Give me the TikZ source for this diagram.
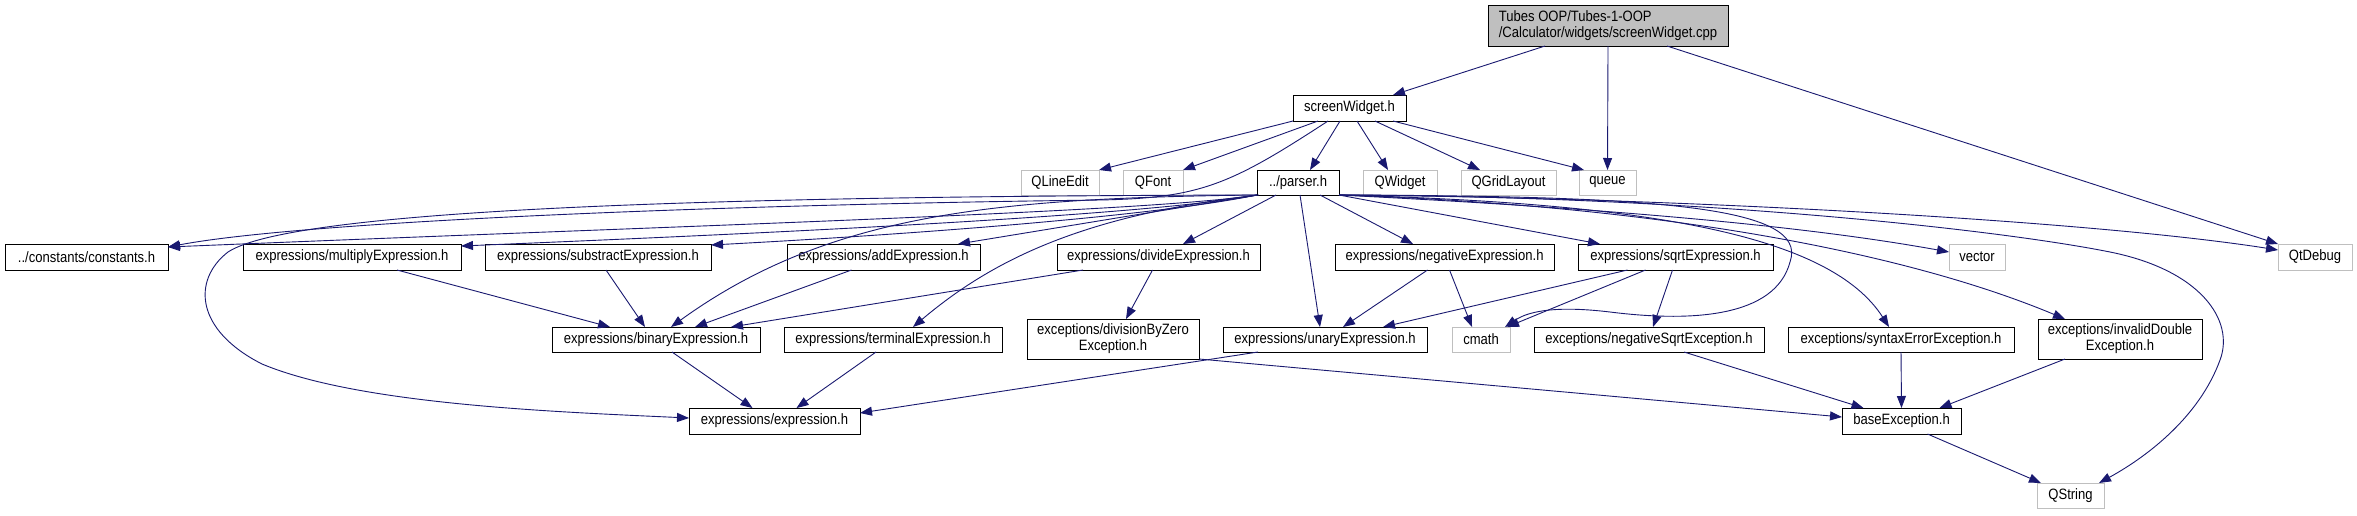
\documentclass[tikz,border=0pt]{standalone}
\usepackage{fontspec}
\setmainfont{Liberation Sans}[FakeStretch=0.87]
\usetikzlibrary{arrows.meta,shadows}
\definecolor{edgeblue}{HTML}{191970}
\definecolor{extgray}{HTML}{BFBFBF}
\definecolor{rootfill}{HTML}{BFBFBF}
\newcommand{\mynode}[7]{\node[#1, minimum width={#4-#3}, minimum height={#6-#5}] (#2) at ({(#3+#4)/2},{(#5+#6)/2}) {#7};}
\begin{document}
\begin{tikzpicture}[x=1pt,y=-1pt,
  every node/.style={font=\fontsize{15pt}{16pt}\selectfont, inner sep=0pt, outer sep=0pt},
  boxshadow/.style={drop shadow={shadow xshift=1.3pt, shadow yshift=-1.3pt, fill=black!55, opacity=1}},
  filebox/.style={draw=black, line width=0.8pt, fill=white, boxshadow},
  twoline/.style={filebox, align=center},
  extbox/.style={draw=extgray, line width=0.9pt, fill=white},
  rootbox/.style={draw=black, line width=0.8pt, fill=rootfill, align=left, boxshadow},
  dep/.style={draw=edgeblue, line width=0.9pt, -{Triangle[length=12pt,width=9pt]}}]
\fill[white] (0,0) rectangle (2357,515);
\useasboundingbox (0,0) rectangle (2357,515);
% row 0/1
\mynode{rootbox}{root}{1488}{1728}{5}{46}{Tubes OOP/Tubes-1-OOP\\/Calculator/widgets/screenWidget.cpp}
\mynode{filebox}{sw}{1293}{1406}{95}{121}{screenWidget.h}
% row 2
\mynode{extbox}{qle}{1021}{1099}{170}{195}{QLineEdit}
\mynode{extbox}{qfont}{1123}{1183}{170}{195}{QFont}
\mynode{filebox}{parser}{1257}{1339}{170}{195}{../parser.h}
\mynode{extbox}{qwidget}{1363}{1437}{170}{195}{QWidget}
\mynode{extbox}{qgrid}{1461}{1556}{170}{195}{QGridLayout}
\mynode{extbox}{queue}{1579}{1636}{170}{195}{queue}
% row 3
\mynode{filebox}{const}{5}{168}{244}{270}{../constants/constants.h}
\mynode{filebox}{mult}{243}{461}{244}{270}{expressions/multiplyExpression.h}
\mynode{filebox}{sub}{485}{711}{244}{270}{expressions/substractExpression.h}
\mynode{filebox}{add}{787}{980}{244}{270}{expressions/addExpression.h}
\mynode{filebox}{div}{1057}{1260}{244}{270}{expressions/divideExpression.h}
\mynode{filebox}{neg}{1335}{1554}{244}{270}{expressions/negativeExpression.h}
\mynode{filebox}{sqrt}{1578}{1773}{244}{270}{expressions/sqrtExpression.h}
\mynode{extbox}{vector}{1949}{2005}{244}{270}{vector}
\mynode{extbox}{qtd}{2278}{2352}{244}{270}{QtDebug}
% row 4
\mynode{filebox}{binary}{552}{760}{327}{352}{expressions/binaryExpression.h}
\mynode{filebox}{terminal}{784}{1002}{327}{352}{expressions/terminalExpression.h}
\mynode{twoline}{divzero}{1027}{1199}{319}{359}{exceptions/divisionByZero\\Exception.h}
\mynode{filebox}{unary}{1223}{1427}{327}{352}{expressions/unaryExpression.h}
\mynode{extbox}{cmath}{1452}{1510}{327}{352}{cmath}
\mynode{filebox}{negsqrt}{1534}{1764}{327}{352}{exceptions/negativeSqrtException.h}
\mynode{filebox}{syntax}{1788}{2014}{327}{352}{exceptions/syntaxErrorException.h}
\mynode{twoline}{invalid}{2038}{2202}{319}{359}{exceptions/invalidDouble\\Exception.h}
% row 5/6
\mynode{filebox}{expr}{689}{860}{408}{434}{expressions/expression.h}
\mynode{filebox}{base}{1842}{1961}{408}{434}{baseException.h}
\mynode{extbox}{qstring}{2037}{2104}{483}{508}{QString}
% root edges
\draw[dep] ([xshift=-63pt]root.south) -- ([xshift=43.5pt]sw.north);
\draw[dep] (root.south) -- (queue.north);
\draw[dep] ([xshift=59pt]root.south) -- (qtd.north west);
% screenWidget edges
\draw[dep] (sw.south west) -- (qle.north east);
\draw[dep] ([xshift=25pt]sw.south west) -- (qfont.north east);
\draw[dep] ([xshift=-21.5pt]sw.south) .. controls (1230,185) and (1200,198) .. (1100,200) .. controls (700,205) and (300,222) .. ([yshift=-3pt]const.north east);
\draw[dep] ([xshift=-9.5pt]sw.south) -- ([xshift=12pt]parser.north);
\draw[dep] ([xshift=7.5pt]sw.south) -- ([xshift=-12pt]qwidget.north);
\draw[dep] ([xshift=25.5pt]sw.south) -- ([xshift=-28.5pt]qgrid.north);
\draw[dep] ([xshift=43.5pt]sw.south) -- ([xshift=5pt]queue.north west);
% parser edges, left
\draw[dep] (parser.south west) .. controls (1150,212) and (700,225) .. ([yshift=-3pt]const.north east);
\draw[dep] (parser.south west) .. controls (1150,215) and (800,232) .. ([yshift=-2pt]mult.north east);
\draw[dep] (parser.south west) .. controls (1150,217) and (900,235) .. ([yshift=-1pt]sub.north east);
\draw[dep] (parser.south west) -- ([xshift=-22pt]add.north east);
\draw[dep] ([xshift=19pt]parser.south west) -- ([xshift=24.5pt]div.north);
\draw[dep] ([xshift=2pt]parser.south west) .. controls (1080,215) and (990,262) .. ([xshift=20pt]terminal.north);
\draw[dep] (parser.south west) .. controls (1000,198) and (830,212) .. ([xshift=15pt]binary.north);
\draw[dep] (parser.south west) .. controls (800,196) and (300,205) .. (228,252) .. controls (192,280) and (195,330) .. (262,364) .. controls (360,405) and (560,412) .. ([yshift=3pt]expr.west);
% parser edges, right
\draw[dep] ([xshift=22pt]parser.south) -- ([xshift=-31.5pt]neg.north);
\draw[dep] ([xshift=2pt]parser.south) -- ([xshift=-5pt]unary.north);
\draw[dep] (parser.south east) -- ([xshift=22pt]sqrt.north west);
\draw[dep] (parser.south east) .. controls (1600,208) and (1800,225) .. ([yshift=5pt]vector.west);
\draw[dep] (parser.south east) .. controls (1700,198) and (2100,222) .. ([yshift=7pt]qtd.west);
\draw[dep] (parser.south east) .. controls (1700,196) and (2000,230) .. (2110,252) .. controls (2200,270) and (2235,320) .. (2220,360) .. controls (2200,415) and (2150,455) .. ([xshift=-5pt]qstring.north east);
\draw[dep] (parser.south east) .. controls (1650,203) and (1830,235) .. ([xshift=-12pt]syntax.north);
\draw[dep] (parser.south east) .. controls (1650,205) and (1900,250) .. ([xshift=-55pt]invalid.north);
\draw[dep] (parser.south east) .. controls (1650,196) and (1810,205) .. (1790,262) .. controls (1775,318) and (1690,322) .. (1610,312) .. controls (1560,306) and (1530,310) .. ([xshift=-5pt]cmath.north east);
% others
\draw[dep] ([xshift=-17pt]neg.south) -- ([xshift=18pt]unary.north);
\draw[dep] ([xshift=5pt]neg.south) -- ([xshift=-9pt]cmath.north);
\draw[dep] ([xshift=-48pt]sqrt.south) -- ([xshift=58pt]unary.north);
\draw[dep] ([xshift=-30pt]sqrt.south) -- ([xshift=-3pt]cmath.north east);
\draw[dep] ([xshift=-3pt]sqrt.south) -- ([xshift=4pt]negsqrt.north);
\draw[dep] ([xshift=26pt]div.south west) -- ([xshift=-29pt]binary.north east);
\draw[dep] ([xshift=-6pt]div.south) -- ([xshift=13pt]divzero.north);
\draw[dep] ([xshift=-32pt]add.south) -- ([xshift=39pt]binary.north);
\draw[dep] ([xshift=8pt]sub.south) -- ([xshift=-11pt]binary.north);
\draw[dep] ([xshift=45pt]mult.south) -- ([xshift=58pt]binary.north west);
\draw[dep] ([xshift=16pt]binary.south) -- ([xshift=-22pt]expr.north);
\draw[dep] ([xshift=-17pt]terminal.south) -- ([xshift=22pt]expr.north);
\draw[dep] ([xshift=-67pt]unary.south) -- ([yshift=8pt]expr.east);
\draw[dep] (divzero.south east) -- ([yshift=4pt]base.west);
\draw[dep] ([xshift=35pt]negsqrt.south) -- ([xshift=-38pt]base.north);
\draw[dep] (syntax.south) -- (base.north);
\draw[dep] ([xshift=-55pt]invalid.south) -- ([xshift=38pt]base.north);
\draw[dep] ([xshift=26pt]base.south) -- ([xshift=4pt]qstring.north west);
\end{tikzpicture}
\end{document}
